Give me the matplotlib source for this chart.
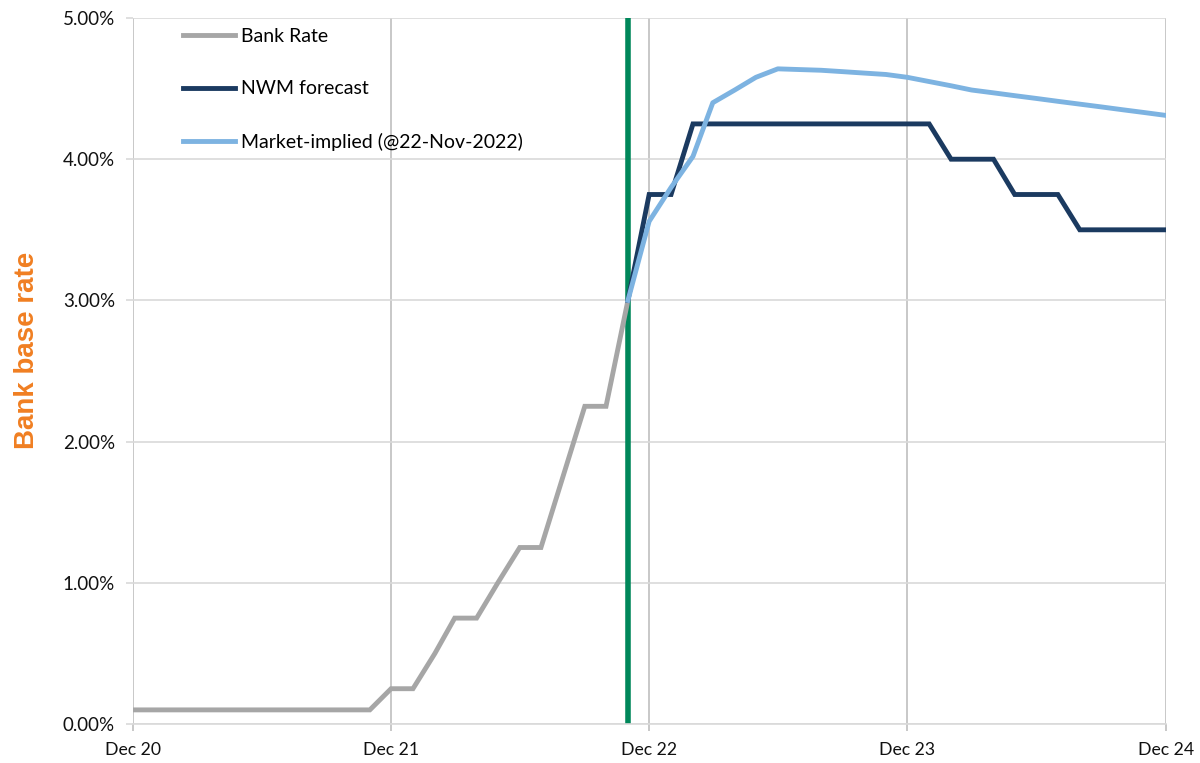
import matplotlib.pyplot as plt
import matplotlib.dates as mdates
import pandas as pd

# Monthly bank rate history (%), Dec 2020 - Nov 2022
history_months = pd.date_range("2020-12-01", "2022-11-01", freq="MS")
bank_rate = [0.1, 0.1, 0.1, 0.1, 0.1, 0.1, 0.1, 0.1, 0.1, 0.1, 0.1, 0.1,
             0.25, 0.25, 0.5, 0.75, 0.75, 1.0, 1.25, 1.25, 1.75, 2.25, 2.25, 3.0]

# Forecast paths (%), Nov 2022 - Dec 2024
forecast_months = pd.date_range("2022-11-01", "2024-12-01", freq="MS")
nwm_forecast = [3.0, 3.75, 3.75, 4.25, 4.25, 4.25, 4.25, 4.25, 4.25, 4.25, 4.25,
                4.25, 4.25, 4.25, 4.25, 4.0, 4.0, 4.0, 3.75, 3.75, 3.75,
                3.5, 3.5, 3.5, 3.5, 3.5]
market_implied = [3.0, 3.56, 3.8, 4.02, 4.40, 4.49, 4.58, 4.64, 4.635, 4.63, 4.62,
                  4.61, 4.60, 4.58, 4.55, 4.52, 4.49, 4.47, 4.45, 4.43, 4.41,
                  4.39, 4.37, 4.35, 4.33, 4.31]

forecast_start = pd.Timestamp("2022-11-01")

fig = plt.figure(figsize=(12, 7.63), dpi=100)
ax = fig.add_axes([0.1108, 0.0511, 0.8609, 0.9253])

ax.axvline(forecast_start, color="#00875A", linewidth=4.0, zorder=2)

ax.plot(history_months, bank_rate, color="#A6A6A6", linewidth=3.5,
        label="Bank Rate", zorder=3, solid_joinstyle="miter")
ax.plot(forecast_months, nwm_forecast, color="#1B3A60", linewidth=3.5,
        label="NWM forecast", zorder=4, solid_joinstyle="miter")
ax.plot(forecast_months, market_implied, color="#7DB3E1", linewidth=3.5,
        label="Market-implied (@22-Nov-2022)", zorder=5)

ax.set_xlim(pd.Timestamp("2020-12-01"), pd.Timestamp("2024-12-01"))
ax.set_ylim(0, 5)

ax.xaxis.set_major_locator(mdates.MonthLocator(bymonth=12))
ax.xaxis.set_major_formatter(mdates.DateFormatter("%b %y"))
ax.set_yticks([0, 1, 2, 3, 4, 5])
ax.yaxis.set_major_formatter(plt.FuncFormatter(lambda v, _: f"{v:.2f}%"))

ax.grid(axis="x", color="#BFBFBF", linewidth=1.2)
ax.grid(axis="y", color="#D9D9D9", linewidth=1.2)
ax.set_axisbelow(True)
for side in ["top", "right", "left"]:
    ax.spines[side].set_visible(False)
ax.spines["bottom"].set_color("#D9D9D9")
ax.spines["bottom"].set_linewidth(1.2)

ax.tick_params(axis="both", length=5, width=1.2, color="#D9D9D9",
               labelcolor="#111111")
ax.tick_params(axis="x", pad=8, color="#BFBFBF", labelsize=12.7)
ax.tick_params(axis="y", pad=8, labelsize=13.5)
for lbl in ax.get_xticklabels() + ax.get_yticklabels():
    lbl.set_fontfamily("Lato")

ax.set_ylabel("Bank base rate", fontsize=20, fontweight="bold",
              color="#F07F22", family="Liberation Sans")
ax.yaxis.set_label_coords(-0.090, 0.529)

ax.legend(loc="upper left", bbox_to_anchor=(0.048, 0.986), frameon=False,
          borderaxespad=0, borderpad=0, handlelength=2.68, handletextpad=0.31,
          labelspacing=1.83, prop={"family": "Lato", "size": 14})

fig.savefig("out.png", dpi=100)
